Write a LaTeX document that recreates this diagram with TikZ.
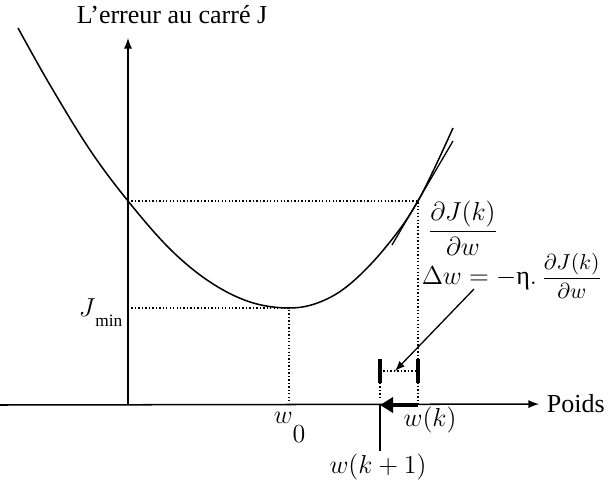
\documentclass[tikz,border=0pt]{standalone}
\usepackage{amsmath}
\usepackage{fontspec}
\setmainfont{Liberation Serif}
\usetikzlibrary{arrows.meta}

\begin{document}
\begin{tikzpicture}[x=0.4615pt, y=-0.4615pt, >=latex, line width=0.7pt,
	every node/.style={font=\large},
	hilfslinie/.style={densely dotted, line width=0.6pt},
	marke/.style={line width=1.5pt}]
\useasboundingbox (0,0) rectangle (608,484);

% Hilfspunkte
\coordinate (O)    at (128,405);
\coordinate (Xl)   at (0,405);
\coordinate (Ytop) at (128,38);
\coordinate (Pk)   at (418,201);
\coordinate (Pmin) at (289,308);
\coordinate (W0)   at (289,405);
\coordinate (Wk)   at (418,405);
\coordinate (Wk1)  at (380,405);

% Achsen mit Beschriftung
\node (ylab) at (172,15) {L’erreur au carré J};
\node[anchor=west] (poids) at (539,404) {Poids};
\draw[->] (Xl) -- (poids);
\draw[->] (O) -- (Ytop);

% Fehlerkurve und Tangente in w(k)
\draw plot[smooth, tension=0.6] coordinates {(18,28) (50,85) (90,150) (128,201) (170,249)
	(210,282) (250,302) (289,308) (320,302) (350,284) (385,248) (418,201) (453,128)};
\draw[line width=0.6pt] (392,245) -- (453,141);

% Hilfslinien
\draw[hilfslinie] (O |- Pk) -- (Pk) -- (Wk);
\draw[hilfslinie] (O |- Pmin) -- (Pmin) -- (W0);

% Beschriftungen
\node[anchor=base east, inner sep=0] (Jmin) at (123,316) {$J\raisebox{-5pt}{$\scriptstyle\min$}$};
\node[anchor=base west, inner sep=0] (w0) at (273,423) {$w\raisebox{-9pt}{$0$}$};
\node (wk) at (430,420) {$w(k)$};
\node[inner sep=1pt] (wk1) at (378,467) {$w(k+1)$};
\node[anchor=west, inner sep=0] (dJ) at (427,228) {$\dfrac{\partial J(k)}{\partial w}$};
\node[anchor=base west, inner sep=0] (dw) at (421,284)
	{$\Delta w = -\mbox{η}.\,${\normalsize$\dfrac{\partial J(k)}{\partial w}$}};

% Schritt Delta w
\coordinate (barL) at (380,371);
\coordinate (barR) at (418,371);
\draw[marke] (380,359) -- (380,383);
\draw[marke] (418,359) -- (418,383);
\draw[hilfslinie] (barL) -- (barR);
\draw[hilfslinie] (380,383) -- (380,397);
\draw[->, line width=0.6pt] (474,289) -- (395,371);

% Gewichtsaenderung auf der Achse
\draw[-{Triangle[length=6pt,width=7pt]}, line width=1.4pt] (Wk) -- (Wk1);
\draw (Wk1) -- (Wk1 |- wk1.north);

\end{tikzpicture}
\end{document}
